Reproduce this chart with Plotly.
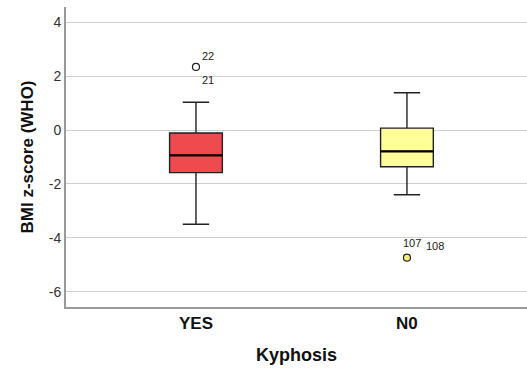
import plotly.graph_objects as go

categories = ["YES", "N0"]
cat_pos = [0, 1]
q1 = [-1.58, -1.36]
median = [-0.94, -0.79]
q3 = [-0.11, 0.07]
lower_whisker = [-3.49, -2.40]
upper_whisker = [1.03, 1.38]
fill_colors = ["#EF4B4F", "#FFFF99"]

y_ticks = [-6, -4, -2, 0, 2, 4]
y_ticktext = ["-6", "-4", "-2", "0", "2", "4"]

outlier_pos = [0, 1]
outlier_vals = [2.34, -4.73]
outlier_fill = ["#FFFFFF", "#F2F07A"]
outlier_labels = [[("22", 12, 11), ("21", 12, -13)], [("107", 5, 15), ("108", 28, 12)]]

box_width = 0.25
FONT = "Liberation Sans, Arial"

fig = go.Figure()
for i, cat in enumerate(categories):
    fig.add_trace(go.Box(
        x=[cat_pos[i]], q1=[q1[i]], median=[median[i]], q3=[q3[i]],
        lowerfence=[lower_whisker[i]], upperfence=[upper_whisker[i]],
        width=box_width, whiskerwidth=0.5,
        fillcolor=fill_colors[i],
        line=dict(color="#222222", width=1.4),
        boxpoints=False, showlegend=False, hoverinfo="skip",
    ))
    fig.add_trace(go.Scatter(
        x=[cat_pos[i] - box_width / 2, cat_pos[i] + box_width / 2],
        y=[median[i], median[i]], mode="lines",
        line=dict(color="#000000", width=2.2), showlegend=False, hoverinfo="skip",
    ))

fig.add_trace(go.Scatter(
    x=outlier_pos, y=outlier_vals, mode="markers",
    marker=dict(size=7, color=outlier_fill, line=dict(color="#222222", width=1.2)),
    showlegend=False, hoverinfo="skip",
))

for i, labels in enumerate(outlier_labels):
    for txt, dx, dy in labels:
        fig.add_annotation(
            x=outlier_pos[i], y=outlier_vals[i], xref="x", yref="y",
            text=txt, showarrow=False, xshift=dx, yshift=dy,
            font=dict(family=FONT, size=11, color="#222222"),
        )

fig.update_layout(
    width=527, height=376,
    margin=dict(l=66, r=0, t=7, b=69),
    paper_bgcolor="white", plot_bgcolor="white",
    font=dict(family=FONT, color="#222222"),
)
fig.update_xaxes(
    range=[-0.616, 1.569], tickvals=cat_pos,
    ticktext=["<b>%s</b>" % t for t in categories],
    tickfont=dict(size=17, color="#111111", family=FONT),
    showgrid=False, zeroline=False, showline=True, linecolor="#999999", linewidth=2,
    ticks="", automargin=False,
    title=dict(text="<b>Kyphosis</b>", font=dict(size=18, color="#111111"), standoff=16),
)
fig.update_yaxes(
    range=[-6.56, 4.56], tickvals=y_ticks, ticktext=y_ticktext,
    tickfont=dict(size=14, color="#333333"),
    showgrid=True, gridcolor="#D0D0D0", gridwidth=1.2, zeroline=False,
    showline=True, linecolor="#999999", linewidth=2, ticks="", automargin=False,
    title=dict(text="<b>BMI z-score (WHO)</b>", font=dict(size=17, color="#111111"), standoff=11),
)

fig.write_html("out.html", config={"displayModeBar": False},
               post_script="document.body.style.margin='0';")
